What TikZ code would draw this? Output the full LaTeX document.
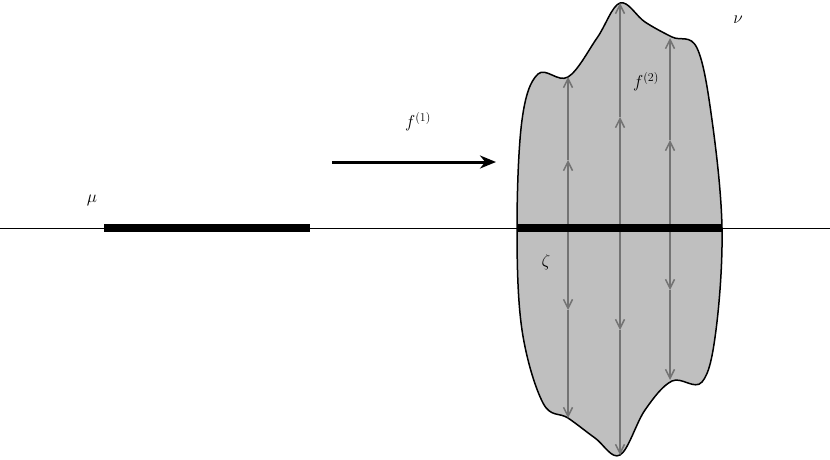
\documentclass[tikz,border=0pt]{standalone}
\usetikzlibrary{arrows.meta}
\begin{document}
\begin{tikzpicture}[x=1pt,y=-1pt,
  flow/.style={draw=black!55,line width=2pt,-{Straight Barb[length=9pt,width=9pt,line width=1.5pt]}},
  lbl/.style={font=\fontsize{17}{20}\selectfont}]
\useasboundingbox (0,0) rectangle (830,459);
\draw[line width=1.5pt,fill=black!25] plot[smooth cycle,tension=0.6] coordinates{(517,228)(522,120)(538,74)(568,77)(597,38)(620,3)(645,22)(672,37)(697,48)(712,120)(722,228)(716,330)(702,382)(672,381)(645,410)(620,455)(595,438)(568,418)(543,403)(522,330)};
\draw[line width=0.8pt] (0,228) -- (830,228);
\foreach \x/\t/\mu/\md/\b in {568/77/160/310/418, 620/3/117/330/455, 670/38/140/290/380}{
  \draw[flow] (\x,228) -- (\x,\mu);
  \draw[flow] (\x,\mu) -- (\x,\t);
  \draw[flow] (\x,228) -- (\x,\md);
  \draw[flow] (\x,\md) -- (\x,\b);
}
\draw[line width=8pt] (104,228) -- (310,228);
\draw[line width=8pt] (517,228) -- (722,228);
\draw[line width=3pt,-{Stealth[length=16pt,width=13pt]}] (332,162) -- (496,162);
\node[lbl] (f1) at (418,122) {$f^{(1)}$};
\node[lbl] (mu) at (92,200) {$\mu$};
\node[lbl] (nu) at (738,20) {$\nu$};
\node[lbl] (ze) at (546,262) {$\zeta$};
\node[lbl] (f2) at (646,82) {$f^{(2)}$};
\end{tikzpicture}
\end{document}
